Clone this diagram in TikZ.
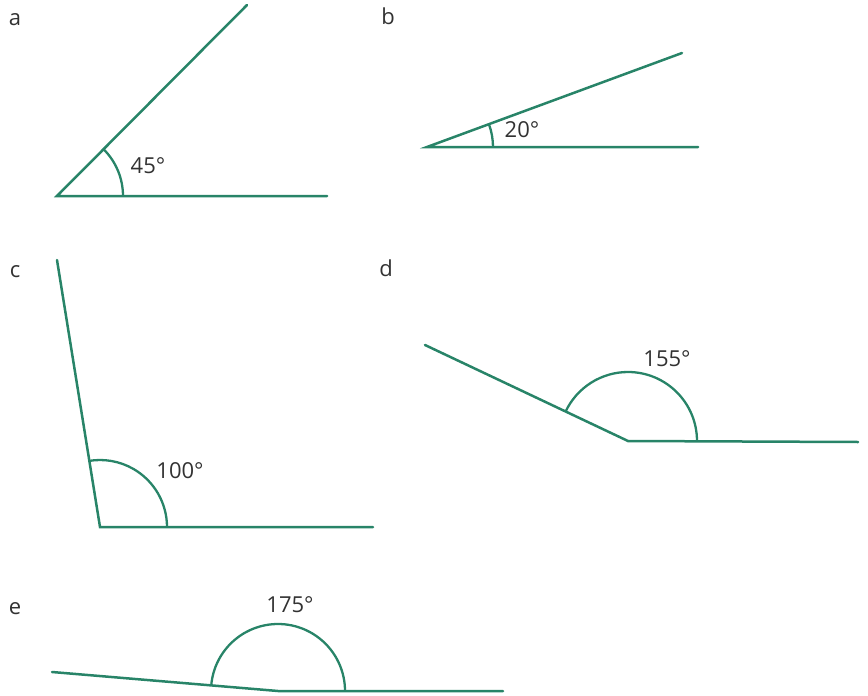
\documentclass[tikz,border=0pt]{standalone}
\usepackage{fontspec}
\setmainfont{Open Sans}
\definecolor{ray}{RGB}{40,132,104}
\definecolor{txt}{RGB}{50,50,50}
\begin{document}
\begin{tikzpicture}[x=1pt,y=-1pt,
  rayline/.style={draw=ray,line width=2.5pt,line cap=round,line join=miter},
  arcline/.style={draw=ray,line width=2.3pt},
  lbl/.style={font=\fontsize{22}{26}\selectfont,text=txt,inner sep=0pt},
  angl/.style={font=\fontsize{22}{26}\selectfont,text=txt,inner sep=0pt}]
\useasboundingbox (0,0) rectangle (868,696);
% a
\coordinate (aV) at (57,196); \coordinate (aH) at (327,196); \coordinate (aR) at (247,5);
\draw[rayline] (aR) -- (aV) -- (aH);
\draw[arcline] (aV) ++(66,0) arc[start angle=0,end angle=-45,radius=66];
\node[lbl] (la) at (15,20) {a};
\node[angl] (ta) at (148,166) {45°};
% b
\coordinate (bV) at (427,147); \coordinate (bH) at (698,147); \coordinate (bR) at (682,53);
\draw[rayline] (bR) -- (bV) -- (bH);
\draw[arcline] (bV) ++(66,0) arc[start angle=0,end angle=-20,radius=66];
\node[lbl] (lb) at (388,16) {b};
\node[angl] (tb) at (522,130) {20°};
% c
\coordinate (cV) at (100,527); \coordinate (cH) at (373,527); \coordinate (cR) at (57,260);
\draw[rayline] (cR) -- (cV) -- (cH);
\draw[arcline] (cV) ++(67,0) arc[start angle=0,end angle=-100,radius=67];
\node[lbl] (lc) at (15,272) {c};
\node[angl] (tc) at (180,471) {100°};
% d
\coordinate (dV) at (628,441); \coordinate (dH) at (858,442); \coordinate (dR) at (425,345);
\draw[rayline] (dR) -- (dV) -- (dH);
\draw[arcline] (dV) ++(69,0) arc[start angle=0,end angle=-155,radius=69];
\node[lbl] (ld) at (386,268) {d};
\node[angl] (td) at (667,359) {155°};
% e
\coordinate (eV) at (278,691); \coordinate (eH) at (503,691); \coordinate (eR) at (52,672);
\draw[rayline] (eR) -- (eV) -- (eH);
\draw[arcline] (eV) ++(67,0) arc[start angle=0,end angle=-175,radius=67];
\node[lbl] (le) at (15,609) {e};
\node[angl] (te) at (290,605) {175°};
\end{tikzpicture}
\end{document}
